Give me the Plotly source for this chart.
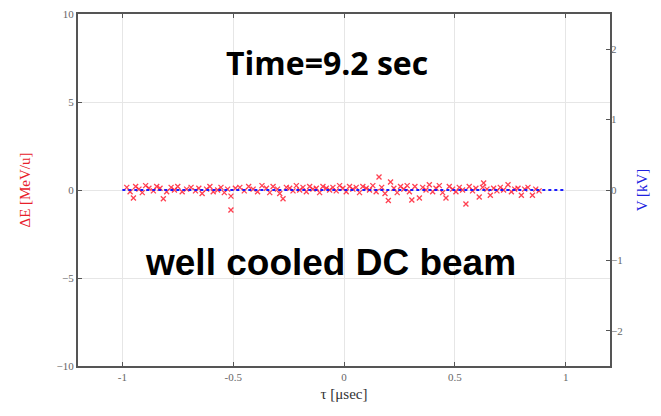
import plotly.graph_objects as go

# energy deviation of the ions vs. time in the bunch
tau = [
    -0.98, -0.965, -0.95, -0.94, -0.925, -0.91, -0.895, -0.88, -0.86, -0.845,
    -0.83, -0.815, -0.80, -0.78, -0.765, -0.75, -0.73, -0.71, -0.69, -0.67,
    -0.655, -0.64, -0.62, -0.605, -0.59, -0.57, -0.555, -0.54, -0.525, -0.51,
    -0.51, -0.49, -0.47, -0.45, -0.43, -0.41, -0.39, -0.37, -0.35, -0.335,
    -0.32, -0.30, -0.29, -0.275, -0.26, -0.245, -0.23, -0.215, -0.20, -0.185,
    -0.17, -0.155, -0.14, -0.125, -0.11, -0.095, -0.08, -0.065, -0.05, -0.035,
    -0.02, -0.005, 0.01, 0.025, 0.04, 0.055, 0.07, 0.085, 0.10, 0.115,
    0.13, 0.145, 0.158, 0.17, 0.185, 0.20, 0.21, 0.225, 0.24, 0.255,
    0.27, 0.285, 0.295, 0.306, 0.32, 0.34, 0.355, 0.37, 0.385, 0.40,
    0.415, 0.43, 0.445, 0.46, 0.475, 0.49, 0.505, 0.52, 0.535, 0.55,
    0.565, 0.58, 0.595, 0.61, 0.625, 0.63, 0.645, 0.66, 0.675, 0.69,
    0.705, 0.72, 0.74, 0.755, 0.77, 0.785, 0.80, 0.815, 0.83, 0.85,
    0.865, 0.88,
]
dE = [
    0.15, -0.10, -0.45, 0.20, 0.05, -0.15, 0.25, 0.10, -0.05, 0.20,
    0.10, -0.50, -0.10, 0.15, 0.00, 0.20, -0.10, 0.05, 0.15, -0.05,
    0.10, -0.20, 0.05, 0.20, -0.10, 0.00, 0.15, -0.15, 0.05, -0.35,
    -1.14, 0.10, 0.15, -0.05, 0.20, 0.05, -0.10, 0.25, 0.10, -0.15,
    0.20, 0.05, -0.20, -0.50, 0.15, 0.10, -0.05, 0.25, 0.00, 0.15,
    -0.10, 0.20, 0.05, 0.10, -0.15, 0.20, 0.10, 0.00, 0.15, -0.05,
    0.25, 0.10, -0.10, 0.20, 0.05, 0.15, -0.15, 0.20, 0.10, 0.00,
    0.25, -0.10, 0.74, 0.15, -0.20, -0.60, 0.45, 0.10, -0.15, 0.20,
    0.05, 0.25, -0.10, -0.57, 0.20, -0.45, 0.15, 0.00, 0.30, -0.10,
    0.10, 0.25, -0.15, -0.45, 0.20, 0.05, -0.10, 0.15, 0.00, -0.80,
    0.20, -0.05, 0.10, -0.40, 0.15, 0.40, 0.05, -0.30, 0.10, -0.05,
    0.15, 0.00, 0.30, -0.10, 0.05, 0.10, -0.30, 0.05, 0.15, -0.30,
    0.05, -0.05,
]

# applied voltage (right axis)
v_tau = [-1.0, 1.0]
v_kv = [0.0, 0.0]

x_ticks = [-1, -0.5, 0, 0.5, 1]
y_ticks = [-10, -5, 0, 5, 10]
y2_ticks = [-2, -1, 0, 1, 2]

serif = "Liberation Serif"
frame = "#555555"
grid = "#e6e6e6"

fig = go.Figure()
fig.add_trace(go.Scatter(
    x=v_tau, y=v_kv, yaxis="y2", mode="lines",
    line=dict(color="#1a1aff", width=2, dash="dot"),
    showlegend=False,
))
fig.add_trace(go.Scatter(
    x=tau, y=dE, mode="markers",
    marker=dict(symbol="x-thin", size=5, line=dict(color="rgba(255,30,50,0.85)", width=1.3)),
    showlegend=False,
))

# page body adds an 8px offset, so the figure is a bit smaller than the window
fig.update_layout(
    width=653, height=408,
    margin=dict(l=70, r=51, t=6, b=50),
    plot_bgcolor="white", paper_bgcolor="white",
    xaxis=dict(
        range=[-1.2, 1.2], tickvals=x_ticks, ticktext=["-1", "-0.5", "0", "0.5", "1"],
        showgrid=True, gridcolor=grid, zeroline=False, automargin=False,
        showline=True, linecolor=frame, linewidth=2, mirror="ticks",
        ticks="inside", ticklen=4, tickcolor=frame,
        tickfont=dict(family=serif, size=11, color="#666"),
        title=dict(text="τ [μsec]", font=dict(family=serif, size=15, color="#333"), standoff=6),
    ),
    yaxis=dict(
        range=[-10, 10], tickvals=y_ticks,
        showgrid=True, gridcolor=grid, zeroline=False, automargin=False,
        ticklabeloverflow="allow",
        showline=True, linecolor=frame, linewidth=2, mirror=True,
        ticks="inside", ticklen=4, tickcolor=frame,
        tickfont=dict(family=serif, size=11, color="#666"),
        title=dict(text="ΔE [MeV/u]", font=dict(family=serif, size=15, color="#e8202a"), standoff=22),
    ),
    yaxis2=dict(
        range=[-2.5, 2.5], tickvals=y2_ticks, overlaying="y", side="right",
        showgrid=False, zeroline=False, automargin=False,
        ticks="inside", ticklen=4, tickcolor=frame,
        tickfont=dict(family=serif, size=11, color="#666"),
        title=dict(text="V [kV]", font=dict(family=serif, size=15, color="#2020e0"), standoff=14),
    ),
    annotations=[
        dict(text="<b>Time=9.2 sec</b>", xref="paper", yref="paper", x=0.468, y=0.861,
             xanchor="center", yanchor="middle",
             showarrow=False, font=dict(family="Open Sans", size=32, color="black")),
        dict(text="<b>well cooled DC beam</b>", xref="paper", yref="paper", x=0.474, y=0.293,
             xanchor="center", yanchor="middle",
             showarrow=False, font=dict(family="Liberation Sans", size=37, color="black")),
    ],
)

fig.write_html("out.html")
